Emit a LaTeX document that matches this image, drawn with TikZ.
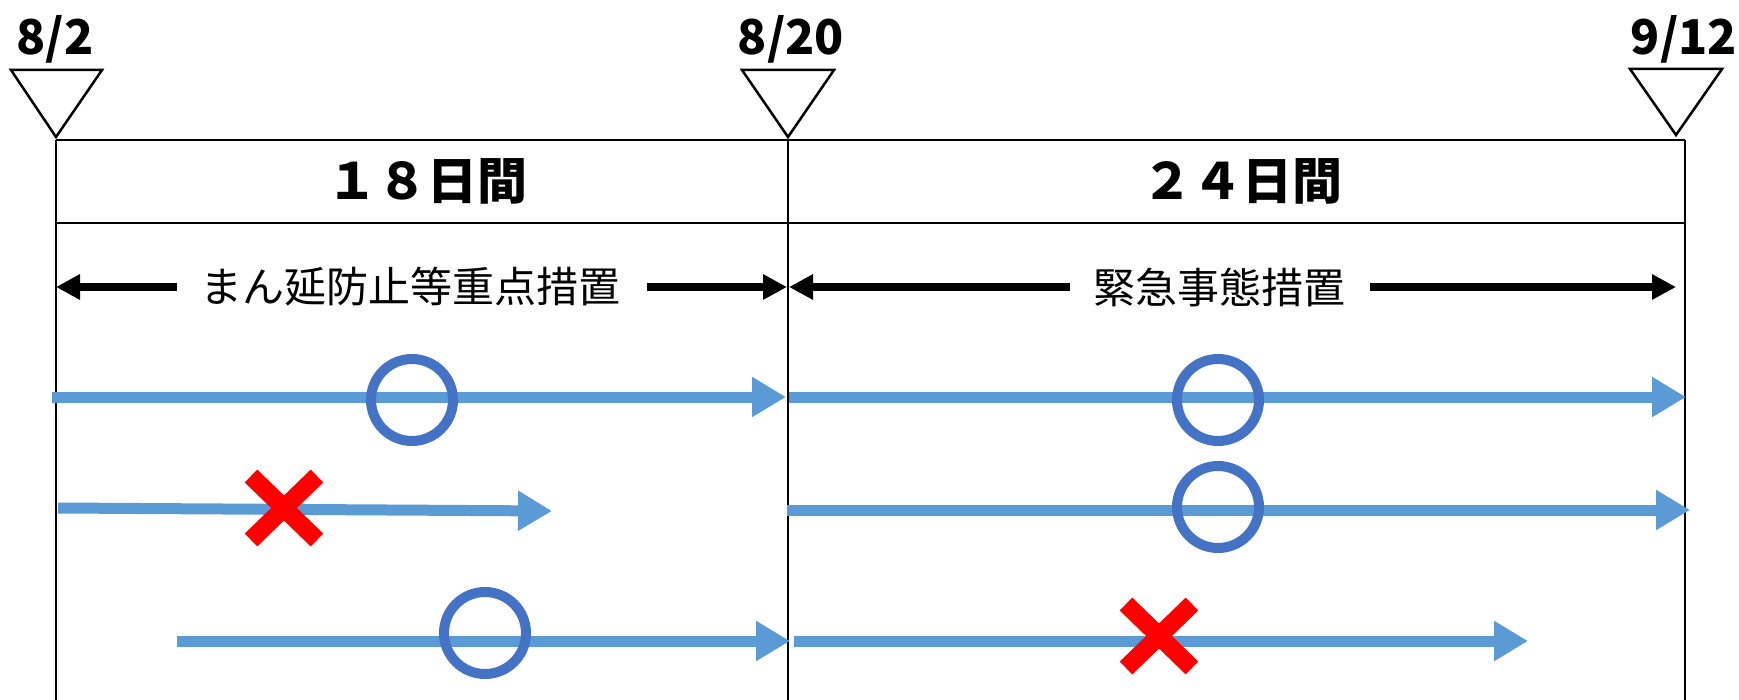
\documentclass[tikz,border=0pt]{standalone}
\usepackage{fontspec}
\newfontfamily\jp{Noto Sans CJK JP}
\usetikzlibrary{arrows.meta}
\definecolor{arrowblue}{HTML}{5B9BD5}
\definecolor{ringblue}{HTML}{4472C4}
\tikzset{
  frame/.style={line width=2.5pt, draw=black},
  marker/.style={line width=2.5pt, draw=black, fill=white, line join=miter},
  datelabel/.style={font={\jp\bfseries\fontsize{48}{54}\selectfont}, inner sep=0pt},
  headlabel/.style={font={\jp\bfseries\fontsize{50}{58}\selectfont}, inner sep=0pt},
  spanlabel/.style={font={\jp\fontsize{42}{50}\selectfont}, inner sep=0pt},
  spanarrow/.style={line width=8pt, -{Triangle[length=24pt,width=24pt]}},
  bluearrow/.style={draw=arrowblue, line width=11pt, -{Triangle[length=34pt,width=38pt]}},
  ring/.style={circle, draw=ringblue, line width=10pt, minimum size=82pt, inner sep=0pt},
  xmark/.style={draw=red, line width=18pt},
}
\begin{document}
\begin{tikzpicture}[x=1pt, y=-1pt]
\useasboundingbox (0,0) rectangle (1739,700);
% frame
\coordinate (L0) at (56,140);  \coordinate (L1) at (56,700);
\coordinate (M0) at (788,140); \coordinate (M1) at (788,700);
\coordinate (R0) at (1685,140); \coordinate (R1) at (1685,700);
\coordinate (HL) at (56,223); \coordinate (HR) at (1685,223);
\draw[frame] (L0) -- (R0);
\draw[frame] (HL) -- (HR);
\draw[frame] (L0) -- (L1);
\draw[frame] (M0) -- (M1);
\draw[frame] (R0) -- (R1);
% date markers
\draw[marker] (11,70) -- (102,70) -- (56,137) -- cycle;
\draw[marker] (742,70) -- (834,70) -- (788,137) -- cycle;
\draw[marker] (1630,69) -- (1722,69) -- (1676,135) -- cycle;
\node[datelabel] (d1) at (55,39) {8/2};
\node[datelabel] (d2) at (791,39) {8/20};
\node[datelabel] (d3) at (1684,39) {9/12};
% header
\node[headlabel] (h1) at (427,181) {１８日間};
\node[headlabel] (h2) at (1242,181) {２４日間};
% span arrows
\node[spanlabel] (s1) at (410,287) {まん延防止等重点措置};
\node[spanlabel] (s2) at (1219,287) {緊急事態措置};
\coordinate (s1a) at (177,287); \coordinate (s1at) at (56,287);
\coordinate (s1b) at (647,287); \coordinate (s1bt) at (787,287);
\coordinate (s2a) at (1070,287); \coordinate (s2at) at (789,287);
\coordinate (s2b) at (1370,287); \coordinate (s2bt) at (1676,287);
\draw[spanarrow] (s1a) -- (s1at);
\draw[spanarrow] (s1b) -- (s1bt);
\draw[spanarrow] (s2a) -- (s2at);
\draw[spanarrow] (s2b) -- (s2bt);
% row 1
\coordinate (r1a) at (52,397); \coordinate (r1b) at (786,397);
\coordinate (r1c) at (789,397); \coordinate (r1d) at (1686,397);
\draw[bluearrow] (r1a) -- (r1b);
\draw[bluearrow] (r1c) -- (r1d);
\node[ring] (o1) at (412,400) {};
\node[ring] (o2) at (1218,400) {};
% row 2
\coordinate (r2a) at (58,508); \coordinate (r2b) at (552,511);
\coordinate (r2c) at (787,510); \coordinate (r2d) at (1690,510);
\draw[bluearrow] (r2a) -- (r2b);
\draw[bluearrow] (r2c) -- (r2d);
\coordinate (x1) at (284,508);
\draw[xmark] (x1) +(-33,-32) -- +(33,32);
\draw[xmark] (x1) +(-33,32) -- +(33,-32);
\node[ring] (o3) at (1218,507) {};
% row 3
\coordinate (r3a) at (177,641); \coordinate (r3b) at (790,641);
\coordinate (r3c) at (794,641); \coordinate (r3d) at (1528,641);
\draw[bluearrow] (r3a) -- (r3b);
\draw[bluearrow] (r3c) -- (r3d);
\node[ring] (o4) at (485,633) {};
\coordinate (x2) at (1159,636);
\draw[xmark] (x2) +(-33,-32) -- +(33,32);
\draw[xmark] (x2) +(-33,32) -- +(33,-32);
\end{tikzpicture}
\end{document}
